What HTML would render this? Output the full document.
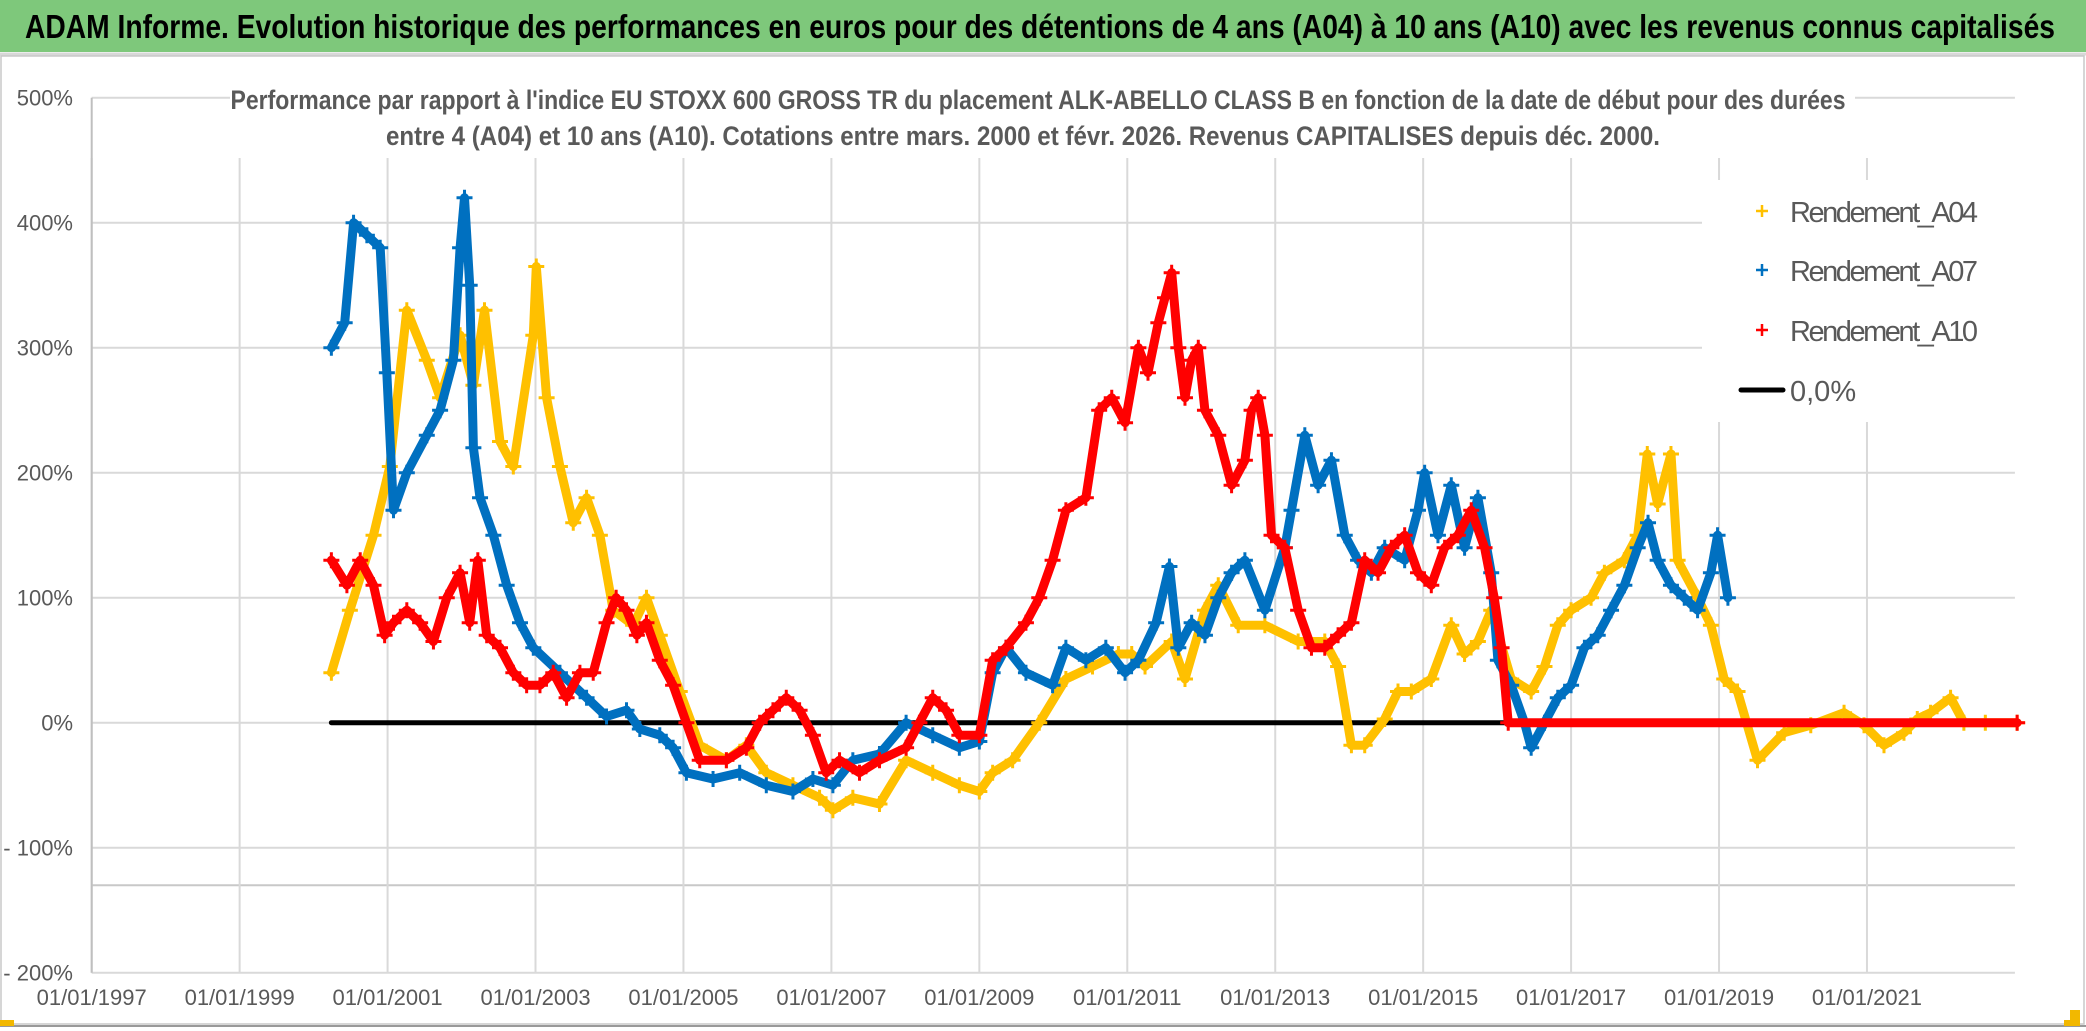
<!DOCTYPE html>
<html><head><meta charset="utf-8">
<style>
html,body{margin:0;padding:0;background:#fff;}
svg{display:block;}
text{font-family:"Liberation Sans Narrow","Liberation Sans",sans-serif;}
</style></head>
<body>
<svg id="chart" width="2086" height="1031" viewBox="0 0 2086 1031" xmlns="http://www.w3.org/2000/svg">
  <rect x="0" y="0" width="2086" height="1031" fill="#fff"/>
  <rect x="0" y="0" width="2086" height="52" fill="#7ec87b"/>
  <line x1="0" y1="54" x2="2086" y2="54" stroke="#d8d8d8" stroke-width="3"/>
  <text x="1040" y="38" text-anchor="middle" font-size="33" font-weight="bold" fill="#000" textLength="2030" lengthAdjust="spacingAndGlyphs">ADAM Informe. Evolution historique des performances en euros pour des détentions de 4 ans (A04) à 10 ans (A10) avec les revenus connus capitalisés</text>
  <rect x="1" y="56" width="2083" height="968" fill="none" stroke="#c8c8c8" stroke-width="1.5"/>
  <line x1="0" y1="1026" x2="2086" y2="1026" stroke="#999" stroke-width="2"/>
  <rect x="2070" y="1010" width="10" height="16" fill="#f2b800"/>
  <rect x="2064" y="1020" width="16" height="6" fill="#f2b800"/>
  <rect x="0" y="1020" width="14" height="6" fill="#f2b800"/>
  <g id="grid"></g>
  <g id="axes"></g>
  <rect x="230" y="68" width="1625" height="88" fill="#fff"/>
  <text x="1038" y="109" text-anchor="middle" font-size="27" font-weight="bold" fill="#595959" textLength="1615" lengthAdjust="spacingAndGlyphs">Performance par rapport à l'indice EU STOXX 600 GROSS TR  du placement ALK-ABELLO CLASS B en fonction de la date de début pour des durées</text>
  <text x="1023" y="145" text-anchor="middle" font-size="27" font-weight="bold" fill="#595959" textLength="1274" lengthAdjust="spacingAndGlyphs">entre 4 (A04) et 10 ans (A10). Cotations entre mars. 2000 et févr. 2026. Revenus CAPITALISES depuis déc. 2000.</text>
  <g id="series"></g>
  <g id="legend"></g>
</svg>
<script>
const yTicks = [500,400,300,200,100,0,-100,-200];
const yTickLabels = ["500%","400%","300%","200%","100%","0%","- 100%","- 200%"];
const xTickYears = [1997,1999,2001,2003,2005,2007,2009,2011,2013,2015,2017,2019,2021];
const xTickLabels = ["01/01/1997","01/01/1999","01/01/2001","01/01/2003","01/01/2005","01/01/2007","01/01/2009","01/01/2011","01/01/2013","01/01/2015","01/01/2017","01/01/2019","01/01/2021"];

const a04Years = [2000.24,2000.49,2000.81,2001.03,2001.26,2001.53,2001.71,2001.98,2002.16,2002.31,2002.52,2002.70,2002.97,2003.01,2003.15,2003.33,2003.51,2003.69,2003.87,2004.05,2004.32,2004.50,2004.68,2004.95,2005.22,2005.58,2005.85,2006.12,2006.48,2006.84,2007.02,2007.29,2007.65,2008.01,2008.37,2008.73,2009.00,2009.18,2009.45,2009.81,2010.17,2010.53,2010.88,2011.06,2011.24,2011.60,2011.78,2012.05,2012.23,2012.50,2012.86,2013.31,2013.67,2013.85,2014.03,2014.21,2014.48,2014.66,2014.84,2015.11,2015.38,2015.56,2015.74,2015.92,2016.19,2016.46,2016.64,2016.82,2017.00,2017.27,2017.45,2017.72,2017.90,2018.03,2018.17,2018.35,2018.44,2018.71,2018.89,2019.07,2019.25,2019.52,2019.88,2020.24,2020.69,2020.96,2021.23,2021.50,2021.68,2021.86,2022.13,2022.31,2022.60,2023.03];
const a04Values = [40,90,150,205,330,290,260,310,270,330,225,205,310,365,260,205,160,180,150,90,78,100,70,25,-18,-30,-18,-40,-50,-60,-70,-60,-65,-30,-40,-50,-55,-40,-30,0,35,45,55,55,45,65,35,90,110,78,78,65,65,45,-18,-18,3,25,25,35,78,55,65,90,35,25,45,78,90,100,120,130,150,215,175,215,130,100,78,35,25,-30,-8,-2,8,-2,-18,-8,3,8,20,0,0,0];

const a07Years = [2000.24,2000.42,2000.54,2000.72,2000.90,2000.99,2001.08,2001.26,2001.53,2001.71,2001.89,2001.98,2002.04,2002.11,2002.16,2002.25,2002.43,2002.61,2002.79,2002.97,2003.33,2003.69,2003.96,2004.23,2004.41,2004.68,2004.86,2005.04,2005.40,2005.76,2006.12,2006.48,2006.75,2007.02,2007.29,2007.65,2008.01,2008.37,2008.73,2009.00,2009.18,2009.36,2009.63,2009.99,2010.17,2010.44,2010.71,2010.97,2011.15,2011.39,2011.57,2011.69,2011.87,2012.05,2012.23,2012.41,2012.59,2012.86,2013.13,2013.22,2013.40,2013.58,2013.76,2013.94,2014.12,2014.30,2014.48,2014.75,2014.93,2015.02,2015.20,2015.38,2015.56,2015.74,2015.92,2016.01,2016.19,2016.37,2016.46,2016.64,2016.82,2017.00,2017.18,2017.36,2017.54,2017.72,2017.90,2018.04,2018.17,2018.35,2018.53,2018.71,2018.89,2018.98,2019.12];
const a07Values = [300,320,400,390,380,280,170,200,230,250,290,380,420,350,220,180,150,110,80,60,40,20,5,10,-5,-10,-20,-40,-45,-40,-50,-55,-45,-50,-30,-25,0,-10,-20,-15,40,60,40,30,60,50,60,40,50,80,125,60,80,70,100,120,130,90,140,170,230,190,210,150,130,120,140,130,170,200,150,190,140,180,120,50,30,0,-20,0,20,30,60,70,90,110,140,160,130,110,100,90,120,150,100];

const a10Years = [2000.24,2000.45,2000.63,2000.81,2000.96,2001.08,2001.26,2001.44,2001.62,2001.80,2001.98,2002.11,2002.22,2002.34,2002.52,2002.70,2002.88,2003.06,2003.24,2003.42,2003.60,2003.78,2003.96,2004.09,2004.23,2004.37,2004.50,2004.68,2004.86,2005.04,2005.22,2005.58,2005.85,2006.03,2006.21,2006.39,2006.57,2006.75,2006.93,2007.11,2007.38,2007.65,2008.01,2008.19,2008.37,2008.55,2008.73,2009.00,2009.18,2009.36,2009.63,2009.81,2009.99,2010.17,2010.44,2010.62,2010.79,2010.97,2011.15,2011.28,2011.42,2011.51,2011.60,2011.69,2011.78,2011.87,2011.96,2012.05,2012.23,2012.41,2012.59,2012.68,2012.77,2012.86,2012.95,2013.13,2013.31,2013.49,2013.67,2013.85,2014.03,2014.21,2014.39,2014.57,2014.75,2014.93,2015.11,2015.29,2015.47,2015.65,2015.83,2015.96,2016.06,2016.15,2023.03];
const a10Values = [130,110,130,110,70,80,90,80,65,100,120,80,130,70,60,40,30,30,40,20,40,40,80,100,90,70,80,50,30,0,-30,-30,-20,0,10,20,10,-10,-40,-30,-40,-30,-20,0,20,10,-10,-10,50,60,80,100,130,170,180,250,260,240,300,280,320,340,360,300,260,290,300,250,230,190,210,250,260,230,150,140,90,60,60,70,80,130,120,140,150,120,110,140,150,170,140,100,60,0,0];

const zeroLineYears = [2000.24, 2023.03];
const zeroLineValues = [0, 0];

const NS = "http://www.w3.org/2000/svg";
const X0 = 91.7, PXYR = 73.97, Y0 = 722.7, PXPCT = 1.25;
function xs(yr){ return X0 + (yr - 1997) * PXYR; }
function ys(v){ return Y0 - v * PXPCT; }
function mk(tag, attrs, parent){ const e = document.createElementNS(NS, tag); for (const k in attrs) e.setAttribute(k, attrs[k]); parent.appendChild(e); return e; }

const grid = document.getElementById('grid');
const axes = document.getElementById('axes');
const plotL = xs(1997), plotR = xs(2023);
yTicks.forEach((v, i) => {
  const l = mk('line', {x1: plotL, x2: plotR, y1: ys(v), y2: ys(v), stroke: '#d9d9d9', 'stroke-width': 2}, grid);
  
  
  const t = mk('text', {x: 73, y: ys(v) + 8, 'text-anchor': 'end', 'font-size': 22, fill: '#595959'}, axes);
  t.textContent = yTickLabels[i];
  
  
});
const extra = mk('line', {x1: plotL, x2: plotR, y1: ys(-130), y2: ys(-130), stroke: '#c8c8c8', 'stroke-width': 2}, grid);


xTickYears.forEach((yr, i) => {
  const l = mk('line', {x1: xs(yr), x2: xs(yr), y1: 158, y2: ys(-200), stroke: '#d9d9d9', 'stroke-width': 2}, grid);
  
  
  const t = mk('text', {x: xs(yr), y: 1005, 'text-anchor': 'middle', 'font-size': 22, fill: '#595959'}, axes);
  t.textContent = xTickLabels[i];
  
  
});
mk('line', {x1: plotL, x2: plotL, y1: ys(500), y2: ys(-200), stroke: '#bfbfbf', 'stroke-width': 2}, axes);
mk('rect', {x: 1702, y: 180, width: 313, height: 242, fill: '#fff'}, axes);

const series = document.getElementById('series');
const zl = mk('line', {x1: xs(zeroLineYears[0]), x2: xs(zeroLineYears[1]), y1: ys(zeroLineValues[0]), y2: ys(zeroLineValues[1]), stroke: '#000', 'stroke-width': 5, 'stroke-linecap': 'round'}, series);



function drawSeries(years, vals, color, name){
  const g = mk('g', {}, series);
  
  
  const pts = years.map((y, i) => xs(y).toFixed(1) + ',' + ys(vals[i]).toFixed(1)).join(' ');
  mk('polyline', {points: pts, fill: 'none', stroke: color, 'stroke-width': 9, 'stroke-linejoin': 'round', 'stroke-linecap': 'round'}, g);
  years.forEach((y, i) => {
    const cx = xs(y), cy = ys(vals[i]);
    const p = mk('path', {d: `M${cx-8},${cy}H${cx+8}M${cx},${cy-8}V${cy+8}`, stroke: color, 'stroke-width': 3}, g);
    
    
  });
}
drawSeries(a04Years, a04Values, '#ffc000', 'series-a04');
drawSeries(a07Years, a07Values, '#0070c0', 'series-a07');
drawSeries(a10Years, a10Values, '#ff0000', 'series-a10');

const legend = document.getElementById('legend');
const legNames = ["Rendement_A04","Rendement_A07","Rendement_A10","0,0%"];
const legColors = ['#ffc000','#0070c0','#ff0000','#000'];
const legY = [211, 270, 330, 390];
legNames.forEach((n, i) => {
  const y = legY[i];
  if (i < 3) {
    const m = mk('path', {d: `M1756,${y}H1768M1762,${y-6}V${y+6}`, stroke: legColors[i], 'stroke-width': 2.5}, legend);
    
    
  } else {
    const m = mk('line', {x1: 1741, x2: 1783, y1: y, y2: y, stroke: '#000', 'stroke-width': 5, 'stroke-linecap': 'round'}, legend);
    
    
  }
  const t = mk('text', {x: 1790, y: y + 11, 'font-size': 29, fill: '#595959'}, legend);
  if (i < 3) t.setAttribute('textLength', '188');
  t.textContent = n;
  
  
});
</script>
</body></html>
